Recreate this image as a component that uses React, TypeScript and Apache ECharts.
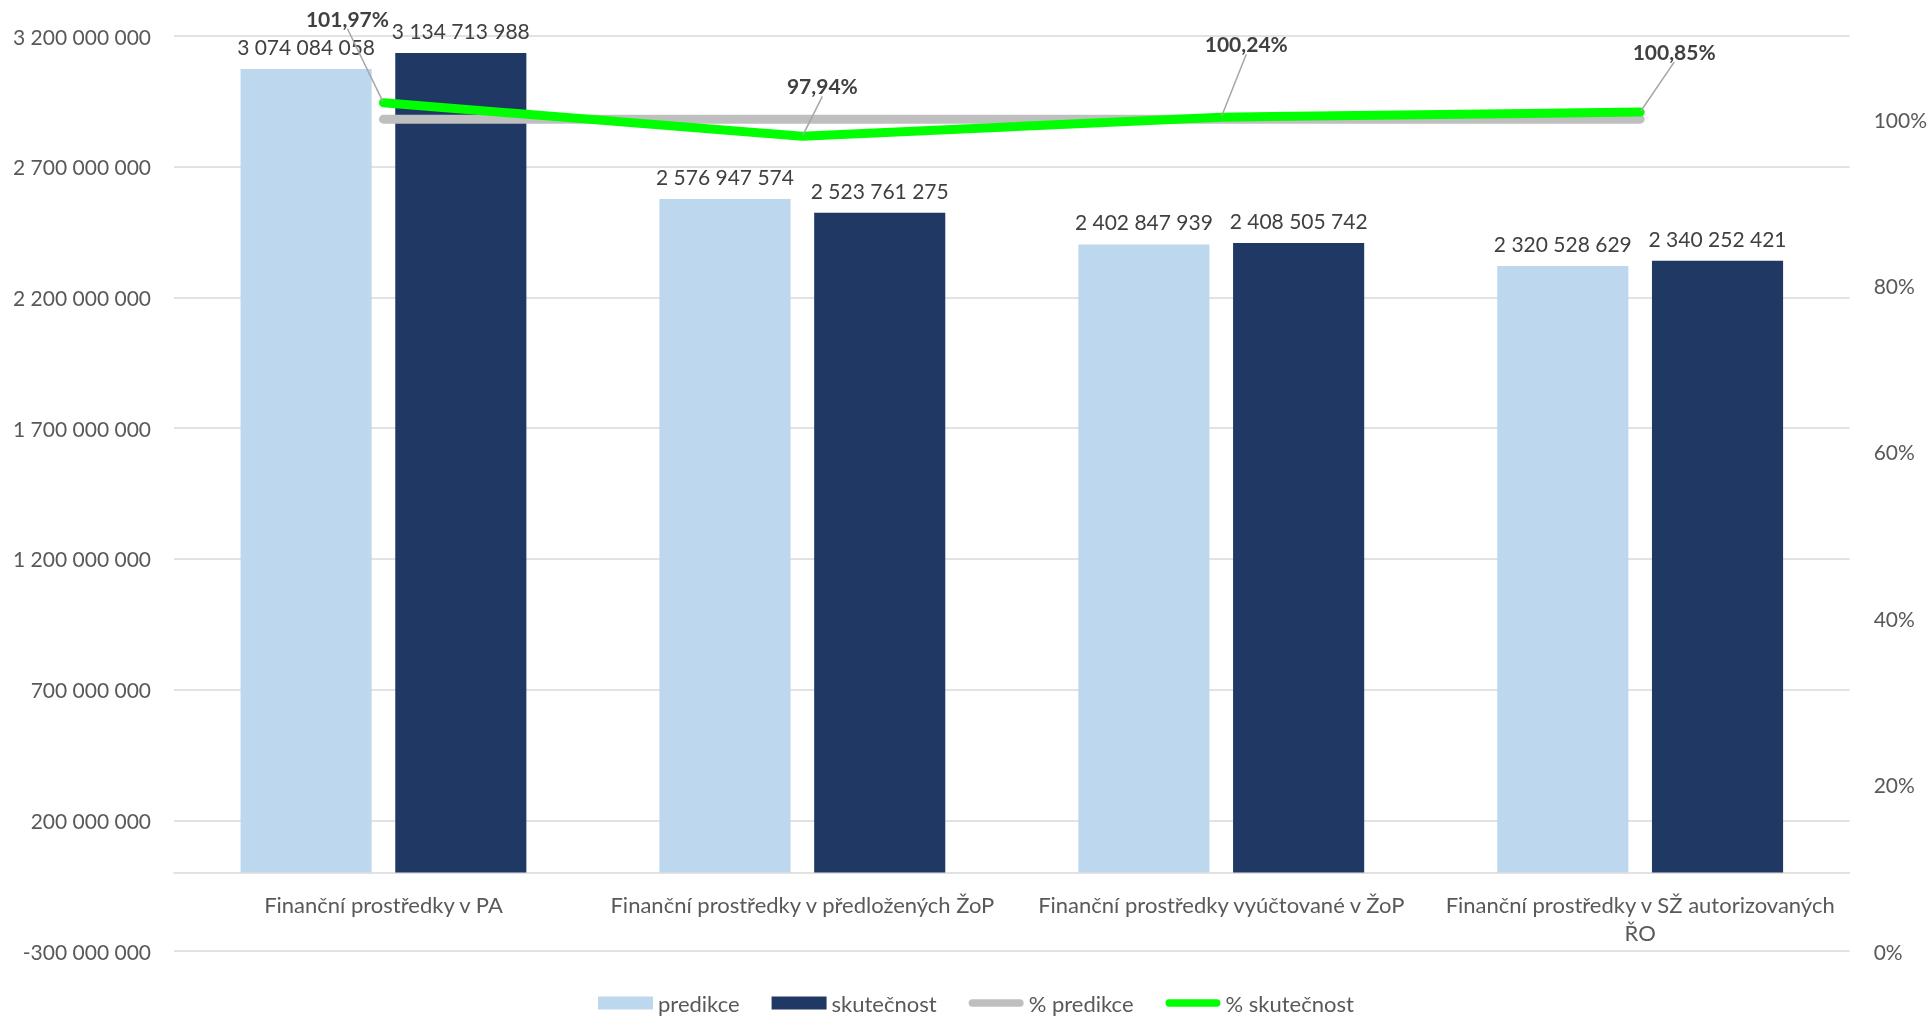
import React, { useEffect, useRef } from "react";
import * as echarts from "echarts";

const categories = [
  "Finanční prostředky v PA",
  "Finanční prostředky v předložených ŽoP",
  "Finanční prostředky vyúčtované v ŽoP",
  "Finanční prostředky v SŽ autorizovaných ŘO",
];
const predikce = [3074084058, 2576947574, 2402847939, 2320528629];
const skutecnost = [3134713988, 2523761275, 2408505742, 2340252421];
const pctPredikce = [100, 100, 100, 100];
const pctSkutecnost = [101.97, 97.94, 100.24, 100.85];
const seriesNames = ["predikce", "skutečnost", "% predikce", "% skutečnost"];

const FONT = "Lato, 'Noto Sans', sans-serif";

function fmtNum(v: number): string {
  const s = Math.round(Math.abs(v)).toString().replace(/\B(?=(\d{3})+(?!\d))/g, " ");
  return (v < 0 ? "-" : "") + s;
}

export default function App() {
  const ref = useRef<HTMLDivElement>(null);
  useEffect(() => {
    if (!ref.current) return;
    const chart = echarts.init(ref.current, undefined, { renderer: "svg" });
    const labelOffsets = [
      [-36, -68],
      [20, -34],
      [25, -57],
      [34, -44],
    ];
    const lineIcon = "path://M4,0 L54,0 A4,4 0 0 1 54,8 L4,8 A4,4 0 0 1 4,0 Z";
    chart.setOption({
      animation: false,
      textStyle: { fontFamily: FONT },
      grid: { left: 174, right: 80, top: 36, bottom: 65, containLabel: false },
      legend: {
        top: 992,
        left: 598,
        padding: 0,
        itemWidth: 55,
        itemHeight: 13,
        itemGap: 32,
        textStyle: { fontSize: 22, lineHeight: 22, color: "#595959", fontFamily: FONT },
        data: [
          { name: seriesNames[0], icon: "rect" },
          { name: seriesNames[1], icon: "rect" },
          { name: seriesNames[2], icon: lineIcon },
          { name: seriesNames[3], icon: lineIcon },
        ],
      },
      xAxis: {
        type: "category",
        data: categories,
        axisTick: { show: false },
        axisLine: { onZero: true, onZeroAxisIndex: 0, lineStyle: { color: "#D9D9D9", width: 1.5 } },
        axisLabel: {
          fontSize: 22,
          color: "#595959",
          lineHeight: 28,
          margin: -61,
          interval: 0,
          formatter: (v: string) => v.replace(" ŘO", "\nŘO"),
        },
      },
      yAxis: [
        {
          type: "value",
          min: -300000000,
          max: 3200000000,
          axisLabel: { show: false },
          axisLine: { show: false },
          axisTick: { show: false },
          splitLine: { show: false },
        },
        {
          type: "value",
          position: "right",
          min: 0,
          max: 110,
          interval: 20,
          axisLine: { show: false },
          axisTick: { show: false },
          splitLine: { show: false },
          axisLabel: {
            fontSize: 21,
            color: "#595959",
            margin: 24,
            formatter: (v: number) => (v > 100 ? "" : v + "%"),
          },
        },
        {
          type: "value",
          position: "left",
          min: 0,
          max: 3500000000,
          interval: 500000000,
          axisLine: { show: false },
          axisTick: { show: false },
          splitLine: { show: true, lineStyle: { color: "#D9D9D9", width: 1.5 } },
          axisLabel: {
            fontSize: 21,
            color: "#595959",
            margin: 23,
            formatter: (v: number) => fmtNum(v - 300000000),
          },
        },
      ],
      series: [
        {
          name: seriesNames[0],
          type: "bar",
          yAxisIndex: 0,
          data: predikce,
          barWidth: "31.3%",
          barGap: "18%",
          itemStyle: { color: "#BDD7EE" },
          label: {
            show: true,
            position: "top",
            distance: 12,
            fontSize: 21,
            color: "#404040",
            formatter: (p: any) => fmtNum(p.value),
          },
        },
        {
          name: seriesNames[1],
          type: "bar",
          yAxisIndex: 0,
          data: skutecnost,
          barWidth: "31.3%",
          barGap: "18%",
          itemStyle: { color: "#203864" },
          label: {
            show: true,
            position: "top",
            distance: 12,
            fontSize: 21,
            color: "#404040",
            formatter: (p: any) => fmtNum(p.value),
          },
        },
        {
          name: seriesNames[2],
          type: "line",
          yAxisIndex: 1,
          data: pctPredikce,
          symbol: "none",
          lineStyle: { color: "#BFBFBF", width: 9, cap: "round", join: "round" },
          itemStyle: { color: "#BFBFBF" },
        },
        {
          name: seriesNames[3],
          type: "line",
          yAxisIndex: 1,
          data: pctSkutecnost,
          symbol: "circle",
          symbolSize: 2,
          lineStyle: { color: "#00FF00", width: 9, cap: "round", join: "round" },
          itemStyle: { color: "#00FF00" },
          label: {
            show: true,
            position: "top",
            fontSize: 21,
            fontWeight: "bold",
            color: "#404040",
            formatter: (p: any) => p.value.toFixed(2).replace(".", ",") + "%",
          },
          labelLine: { show: true, lineStyle: { color: "#A6A6A6", width: 1.5 } },
          labelLayout: (params: any) => ({
            dx: labelOffsets[params.dataIndex][0],
            dy: labelOffsets[params.dataIndex][1],
          }),
        },
      ],
    });
    return () => chart.dispose();
  }, []);
  return (
    <div
      ref={ref}
      style={{ position: "fixed", left: 0, top: 0, width: "1930px", height: "1016px" }}
    />
  );
}
